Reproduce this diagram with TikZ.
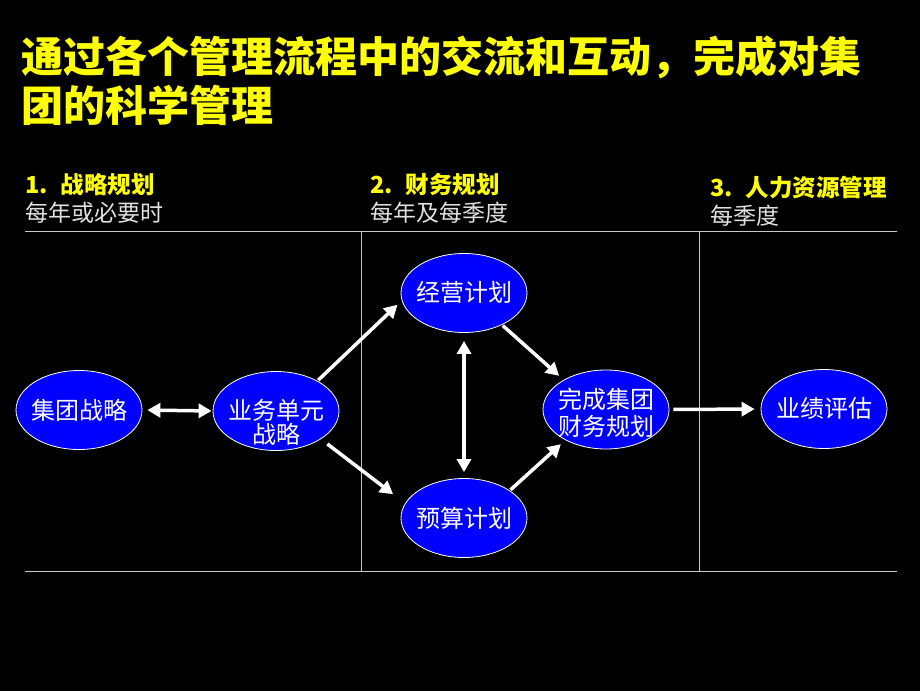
\documentclass[tikz,border=0pt]{standalone}
\usepackage{fontspec}
\setmainfont{Noto Sans CJK SC}
\usetikzlibrary{shapes.geometric,arrows.meta}
\definecolor{ttlyellow}{RGB}{255,255,0}
\definecolor{subgray}{RGB}{225,225,225}
\definecolor{rulegray}{RGB}{200,200,200}
\definecolor{ovalblue}{RGB}{0,0,255}
\begin{document}
\begin{tikzpicture}[x=1pt,y=-1pt,
  oval/.style={ellipse,draw=white,line width=0.8pt,fill=ovalblue,minimum width=126pt,minimum height=79pt,inner sep=0pt},
  otext/.style={text=white,align=center,inner sep=0pt},
  hdr/.style={text=ttlyellow,anchor=west,inner sep=0pt,font=\fontsize{23.5}{25}\selectfont\bfseries},
  sub/.style={text=subgray,anchor=west,inner sep=0pt,font=\fontsize{23}{25}\selectfont},
  conn/.style={draw=white,line width=3.5pt,-{Triangle[length=13pt,width=14pt]}},
  bconn/.style={draw=white,line width=3.5pt,{Triangle[length=13pt,width=14pt]}-{Triangle[length=13pt,width=14pt]}},
  rulel/.style={draw=rulegray,line width=1pt}
]
\fill[black] (0,0) rectangle (920,691);
\useasboundingbox (0,0) rectangle (920,691);

% title
\node[text=ttlyellow,anchor=west,align=left,inner sep=0pt,font=\fontsize{42}{49}\selectfont\bfseries] (title) at (21,80.5)
  {通过各个管理流程中的交流和互动，完成对集\\团的科学管理};

% headers
\node[hdr] (h1) at (25,185) {1.\hspace{13pt}战略规划};
\node[sub] (s1) at (25,213) {每年或必要时};
\node[hdr] (h2) at (370,185) {2.\hspace{13pt}财务规划};
\node[sub] (s2) at (370,213) {每年及每季度};
\node[hdr] (h3) at (710,188) {3.\hspace{13pt}人力资源管理};
\node[sub] (s3) at (710,216) {每季度};

% rules
\draw[rulel] (25,231) -- (897,231);
\draw[rulel] (25,571) -- (897,571);
\draw[rulel] (361,231) -- (361,571);
\draw[rulel] (699,231) -- (699,571);

% ovals
\node[oval] (jt) at (79,410) {};
\node[oval] (yw) at (276,411) {};
\node[oval] (jy) at (464,293) {};
\node[oval] (ys) at (464,518) {};
\node[oval] (wc) at (606,409.5) {};
\node[oval] (yj) at (824,409) {};

\node[otext,font=\fontsize{24}{24}\selectfont] (jtt) at (79,410) {集团战略};
\node[otext,font=\fontsize{24}{24}\selectfont] (ywt) at (276,422) {业务单元\\战略};
\node[otext,font=\fontsize{24}{24}\selectfont] (jyt) at (464,292) {经营计划};
\node[otext,font=\fontsize{24}{24}\selectfont] (yst) at (464,518) {预算计划};
\node[otext,font=\fontsize{24}{27}\selectfont] (wct) at (606,413) {完成集团\\财务规划};
\node[otext,font=\fontsize{24}{24}\selectfont] (yjt) at (824,408) {业绩评估};

% connectors
\draw[bconn,shorten <=5pt,shorten >=1pt] (jt.east) -- (yw.west);
\draw[conn,shorten <=1pt,shorten >=6pt] (yw.36) -- (jy.187);
\draw[conn,shorten <=8pt,shorten >=15pt] (yw.-32) -- (ys.166);
\draw[bconn,shorten <=8pt,shorten >=6pt] (jy.south) -- (ys.north);
\draw[conn,shorten <=1pt,shorten >=6pt] (jy.-40) -- (wc.145);
\draw[conn,shorten <=1pt,shorten >=6pt] (ys.31) -- (wc.217);
\draw[conn,shorten <=4pt,shorten >=6pt] (wc.east) -- (yj.west);
\end{tikzpicture}
\end{document}
